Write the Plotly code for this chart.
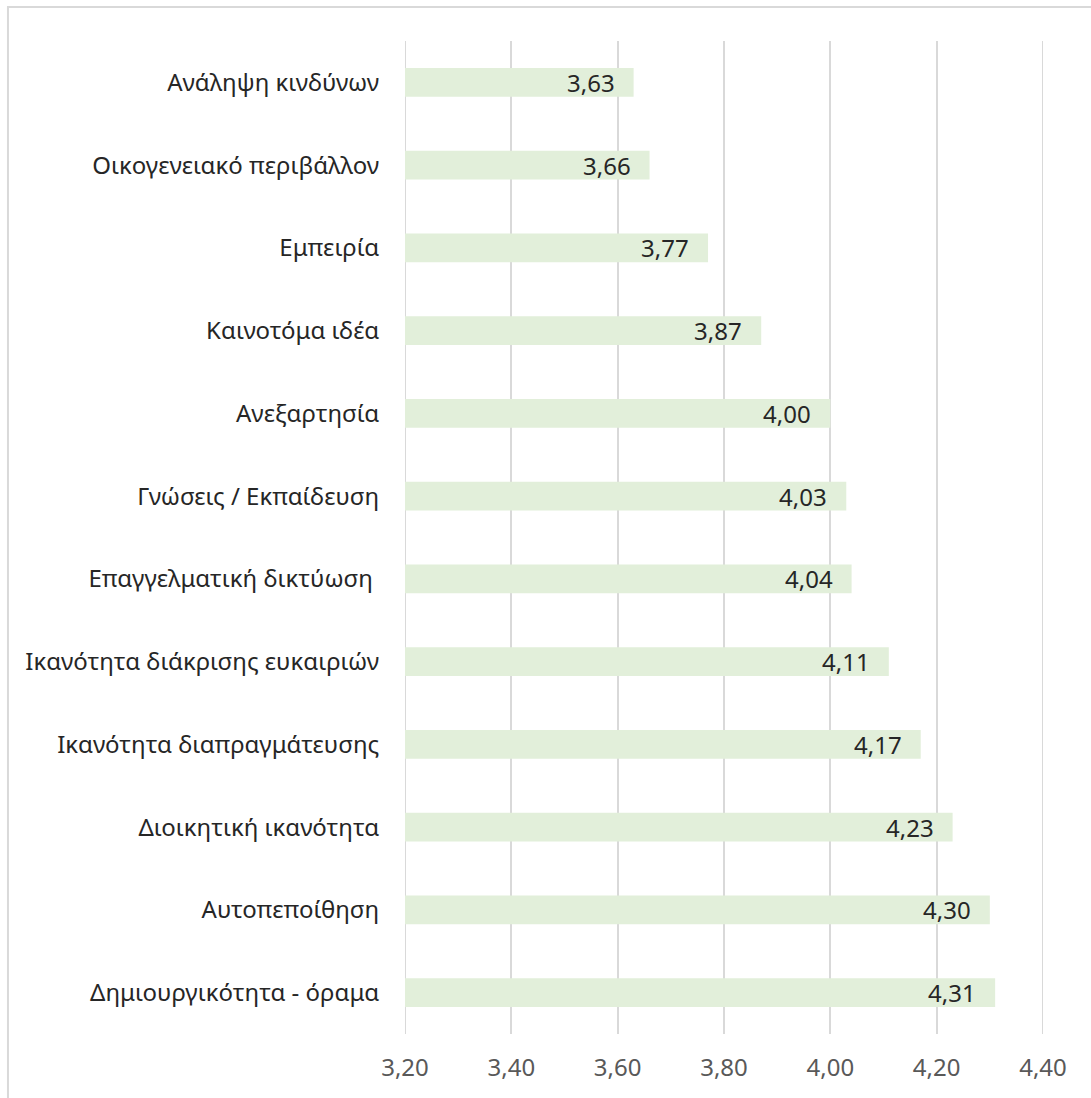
import plotly.graph_objects as go

# Factors, listed top to bottom, with their mean scores
categories = [
    "Ανάληψη κινδύνων",
    "Οικογενειακό περιβάλλον",
    "Εμπειρία",
    "Καινοτόμα ιδέα",
    "Ανεξαρτησία",
    "Γνώσεις / Εκπαίδευση",
    "Επαγγελματική δικτύωση ",
    "Ικανότητα διάκρισης ευκαιριών",
    "Ικανότητα διαπραγμάτευσης",
    "Διοικητική ικανότητα",
    "Αυτοπεποίθηση",
    "Δημιουργικότητα - όραμα",
]
scores = [3.63, 3.66, 3.77, 3.87, 4.00, 4.03, 4.04, 4.11, 4.17, 4.23, 4.30, 4.31]
tick_values = [3.20, 3.40, 3.60, 3.80, 4.00, 4.20, 4.40]
axis_min, axis_max = 3.20, 4.40

FONT = "Noto Sans"
GRID = "#d9d9d9"

fig = go.Figure()
# bars start at the axis minimum, so the drawn length is value - axis_min
fig.add_trace(
    go.Bar(
        y=categories,
        x=[v - axis_min for v in scores],
        base=axis_min,
        orientation="h",
        marker=dict(color="#e2efda", line=dict(width=0)),
        hoverinfo="skip",
    )
)

# value labels sit inside the end of each bar
for cat, v in zip(categories, scores):
    fig.add_annotation(
        x=v, y=cat, xref="x", yref="y",
        text=f"{v:.2f}".replace(".", ","),
        showarrow=False, xanchor="right", xshift=-17,
        font=dict(family=FONT, size=24, color="#262626"),
    )

# gridlines at both ends of the range (plotly hides the edge ones)
for xv in (axis_min, axis_max):
    fig.add_shape(
        type="line", xref="x", yref="paper",
        x0=xv, x1=xv, y0=0, y1=1,
        line=dict(color=GRID, width=2), layer="below",
    )

# outer chart border
fig.add_shape(
    type="rect", xref="paper", yref="paper",
    x0=-0.6223, x1=1.3, y0=-0.2, y1=1.0342,
    line=dict(color=GRID, width=2), fillcolor="rgba(0,0,0,0)", layer="below",
)

fig.update_layout(
    width=1091, height=1098,
    margin=dict(l=405, r=48, t=41, b=64),
    paper_bgcolor="white", plot_bgcolor="white",
    separators=",.",
    bargap=0.65,
    showlegend=False,
    font=dict(family=FONT, color="#262626"),
    xaxis=dict(
        range=[axis_min, axis_max],
        tickvals=tick_values,
        tickformat=".2f",
        showgrid=True, gridcolor=GRID, gridwidth=2,
        zeroline=False, showline=False,
        ticks="", ticklabelstandoff=17,
        tickfont=dict(family=FONT, size=24, color="#595959"),
    ),
    yaxis=dict(
        categoryorder="array", categoryarray=categories,
        autorange="reversed",
        showgrid=False, zeroline=False, showline=False,
        ticks="outside", ticklen=20, tickcolor="rgba(0,0,0,0)",
        tickfont=dict(family=FONT, size=24, color="#262626"),
    ),
)

fig.write_html("out.html")
